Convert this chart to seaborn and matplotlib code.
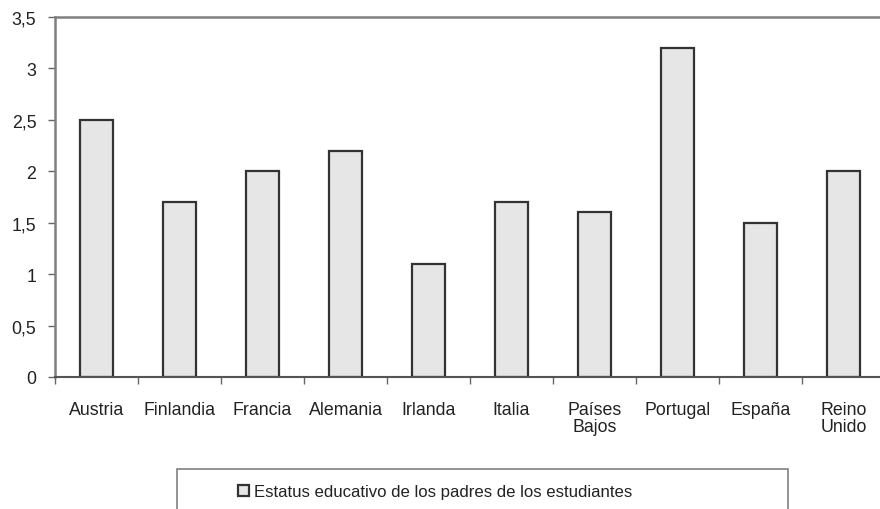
import matplotlib
matplotlib.use("Agg")
import matplotlib.pyplot as plt
import matplotlib.patches as mpatches
import seaborn as sns
import numpy as np

countries = ['Austria', 'Finlandia', 'Francia', 'Alemania', 'Irlanda', 'Italia',
             'Países\nBajos', 'Portugal', 'España', 'Reino\nUnido']
status = [2.5, 1.7, 2.0, 2.2, 1.1, 1.7, 1.6, 3.2, 1.5, 2.0]
yticks = [0, 0.5, 1, 1.5, 2, 2.5, 3, 3.5]
ytick_labels = ['0', '0,5', '1', '1,5', '2', '2,5', '3', '3,5']
series_name = 'Estatus educativo de los padres de los estudiantes'

sns.set_style('white')
plt.rcParams['font.family'] = ['Liberation Sans', 'DejaVu Sans']

fig = plt.figure(figsize=(8.8, 5.1), dpi=100)
ax = fig.add_axes([55 / 880, 1 - 378 / 510, 830 / 880, 360 / 510])

sns.barplot(x=countries, y=status, color='#e6e6e6', edgecolor='#333333',
            linewidth=1.6, width=0.4, saturation=1, label=series_name, ax=ax)

ax.set_xlim(-0.5, len(countries) - 0.5)
ax.set_ylim(0, 3.5)
ax.set_yticks(yticks)
ax.set_yticklabels(ytick_labels)

# tick marks sit between categories
ax.set_xticks(np.arange(-0.5, len(countries) + 0.5, 1), minor=True)
ax.tick_params(axis='x', which='major', length=0, pad=17, labelsize=12.8,
               colors='#222222')
ax.tick_params(axis='x', which='minor', length=5, width=1, color='#666666',
               direction='out', bottom=True)
ax.tick_params(axis='y', which='major', length=5, width=1, color='#666666',
               direction='out', left=True, pad=8.5, labelsize=12.8,
               labelcolor='#222222')
for lbl in ax.get_xticklabels():
    lbl.set_linespacing(1.05)

for side in ['left', 'top']:
    ax.spines[side].set_color('#808080')
    ax.spines[side].set_linewidth(1.8)
ax.spines['bottom'].set_color('#555555')
ax.spines['bottom'].set_linewidth(1.5)
ax.spines['right'].set_visible(False)
ax.set_xlabel('')
ax.set_ylabel('')

# legend box at the bottom (partly cut off)
box = mpatches.Rectangle((177 / 880, 1 - 530 / 510), 611 / 880, 60 / 510,
                         transform=fig.transFigure, fill=False,
                         edgecolor='#808080', linewidth=1.2)
fig.patches.append(box)
leg = ax.legend(loc='center left', bbox_to_anchor=(230 / 880, 1 - 493 / 510),
                bbox_transform=fig.transFigure, frameon=False, fontsize=12.1,
                handlelength=0.65, handleheight=0.65, handletextpad=0.25,
                borderpad=0)
for t in leg.get_texts():
    t.set_color('#222222')

fig.savefig('out.png', dpi=100)
